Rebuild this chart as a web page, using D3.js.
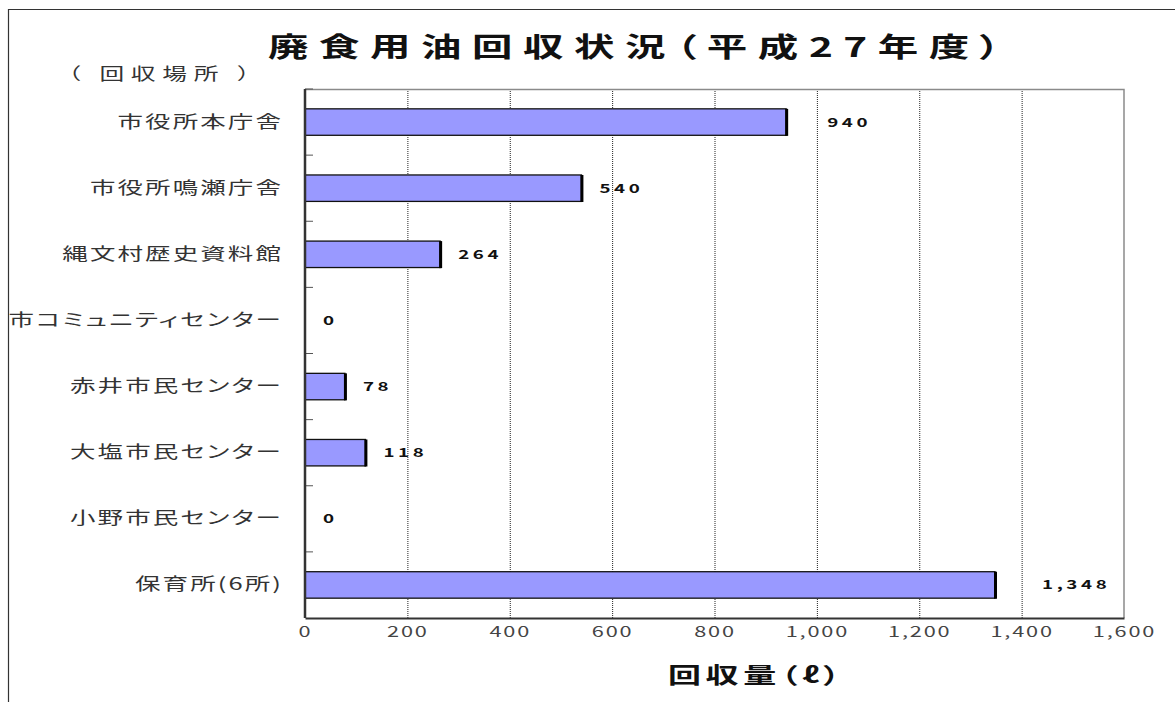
<!DOCTYPE html>
<html>
<head>
<meta charset="utf-8">
<script src="https://cdn.jsdelivr.net/npm/d3@7"></script>
<style>
  html, body { margin: 0; padding: 0; background: #fff; }
  svg { display: block; }
  text { font-family: "Noto Sans CJK JP", sans-serif; font-feature-settings: "palt"; }
</style>
</head>
<body>
<div id="root"></div>
<script>
// chart values
const categories = [
    "市役所本庁舎",
    "市役所鳴瀬庁舎",
    "縄文村歴史資料館",
    "市コミュニティセンター",
    "赤井市民センター",
    "大塩市民センター",
    "小野市民センター",
    "保育所(6所)"
];
const values = [940, 540, 264, 0, 78, 118, 0, 1348];
const xTicks = [0, 200, 400, 600, 800, 1000, 1200, 1400, 1600];

const titleText = "廃食用油回収状況（平成27年度）";
const yAxisTitle = "（ 回収場所 ）";
const xAxisTitle = "回収量（ℓ）";

// layout
const width = 1175, height = 702;
const margin = { top: 89, right: 51, bottom: 84, left: 305 };
const SX = 1.5;  // the original is stretched sideways, so every text is too
const labelNudge = { 0: 23, 7: 29 };   // hand moved labels in the original

const svg = d3.select("#root")
    .append("svg")
    .attr("width", width)
    .attr("height", height);

const x = d3.scaleLinear()
    .domain([0, 1600])
    .range([margin.left, width - margin.right]);

const y = d3.scaleBand()
    .domain(categories)
    .range([margin.top, height - margin.bottom])
    .paddingInner(0.6)
    .paddingOuter(0.3);

const step = y.step();

// outer frame (top + left only)
svg.append("path")
    .attr("d", `M8.5,${height} V9.5 H${width}`)
    .attr("fill", "none")
    .attr("stroke", "#333")
    .attr("stroke-width", 1.2);

// gridlines
svg.append("g")
    .attr("class", "grid")
    .attr("transform", `translate(0, ${height - margin.bottom})`)
    .call(d3.axisBottom(x)
        .tickValues(xTicks.filter(d => d > 0 && d < 1600))
        .tickSize(-(height - margin.top - margin.bottom))
        .tickFormat(""))
    .call(g => g.select(".domain").remove())
    .call(g => g.selectAll("line")
        .attr("stroke", "#222")
        .attr("stroke-dasharray", "1,1"));

// plot frame top / right
svg.append("path")
    .attr("d", `M${margin.left},${margin.top + 0.5} H${x(1600)} V${height - margin.bottom}`)
    .attr("fill", "none")
    .attr("stroke", "#8a8a8a")
    .attr("stroke-width", 1.5);

// bars
const bars = svg.append("g").attr("class", "bars");

bars.selectAll("rect.bar")
    .data(values)
    .enter()
    .append("rect")
        .attr("class", "bar")
        .attr("x", x(0))
        .attr("y", (d, i) => y(categories[i]))
        .attr("width", d => x(d) - x(0))
        .attr("height", y.bandwidth())
        .attr("fill", "#9999ff")
        .attr("stroke", "#111")
        .attr("stroke-width", 1.3);

// thick right edge (shadow look)
bars.selectAll("line.edge")
    .data(values.map((v, i) => ({ v, i })).filter(d => d.v > 0))
    .enter()
    .append("line")
        .attr("class", "edge")
        .attr("x1", d => x(d.v) + 0.5)
        .attr("x2", d => x(d.v) + 0.5)
        .attr("y1", d => y(categories[d.i]))
        .attr("y2", d => y(categories[d.i]) + y.bandwidth() + 0.6)
        .attr("stroke", "#000")
        .attr("stroke-width", 3);

// value labels
svg.append("g")
    .attr("class", "labels")
    .selectAll("text")
    .data(values)
    .enter()
    .append("text")
        .attr("transform", (d, i) => `translate(${x(d) + 18 + (labelNudge[i] || 0)}, ${y(categories[i]) + y.bandwidth() / 2}) scale(${SX},1)`)
        .attr("dy", "0.36em")
        .attr("font-family", "'Liberation Sans', Arial, sans-serif")
        .attr("font-weight", "bold")
        .attr("font-size", 12.5)
        .attr("letter-spacing", 2.4)
        .attr("fill", "#111")
        .text(d => d3.format(",")(d));

// y axis (labels at band centres, ticks at band edges)
const yAxis = svg.append("g")
    .attr("transform", `translate(${margin.left}, 0)`)
    .call(d3.axisLeft(y).tickSize(0).tickPadding(0));

yAxis.select(".domain").remove();
yAxis.selectAll("text")
    .attr("x", null)
    .attr("transform", `translate(-22,0) scale(${SX},1)`)
    .attr("font-size", 17)
    .attr("letter-spacing", 1.4)
    .attr("fill", "#333");

yAxis.selectAll("line.edge-tick")
    .data(categories)
    .enter()
    .append("line")
        .attr("class", "edge-tick")
        .attr("x1", 0)
        .attr("x2", 8)
        .attr("y1", d => y(d) - step * 0.3)
        .attr("y2", d => y(d) - step * 0.3)
        .attr("stroke", "#555");

yAxis.append("line")
    .attr("y1", margin.top)
    .attr("y2", height - margin.bottom)
    .attr("stroke", "#333")
    .attr("stroke-width", 2.5);

// x axis
const xAxis = svg.append("g")
    .attr("transform", `translate(0, ${height - margin.bottom})`)
    .call(d3.axisBottom(x)
        .tickValues(xTicks)
        .tickFormat(d3.format(","))
        .tickSize(0)
        .tickPadding(9));

xAxis.select(".domain")
    .attr("stroke", "#333")
    .attr("stroke-width", 1.8);
xAxis.selectAll("text")
    .attr("transform", `scale(${SX},1)`)
    .attr("font-family", "'Liberation Sans', Arial, sans-serif")
    .attr("font-size", 14.5)
    .attr("letter-spacing", 1.2)
    .attr("fill", "#444");

// titles
svg.append("text")
    .attr("id", "title")
    .attr("transform", `translate(268, 57) scale(${SX},1)`)
    .attr("font-size", 27)
    .attr("font-weight", "bold")
    .attr("fill", "#111")
    .attr("textLength", 732 / SX)
    .attr("lengthAdjust", "spacing")
    .text(titleText);

svg.append("text")
    .attr("transform", `translate(68, 80) scale(${SX},1)`)
    .attr("font-size", 16.5)
    .attr("letter-spacing", 4.5)
    .attr("fill", "#333")
    .text(yAxisTitle);

svg.append("text")
    .attr("transform", `translate(668, 683) scale(${SX},1)`)
    .attr("font-size", 22)
    .attr("font-weight", "bold")
    .attr("textLength", 172 / SX)
    .attr("lengthAdjust", "spacing")
    .attr("fill", "#111")
    .text(xAxisTitle);
</script>
</body>
</html>
